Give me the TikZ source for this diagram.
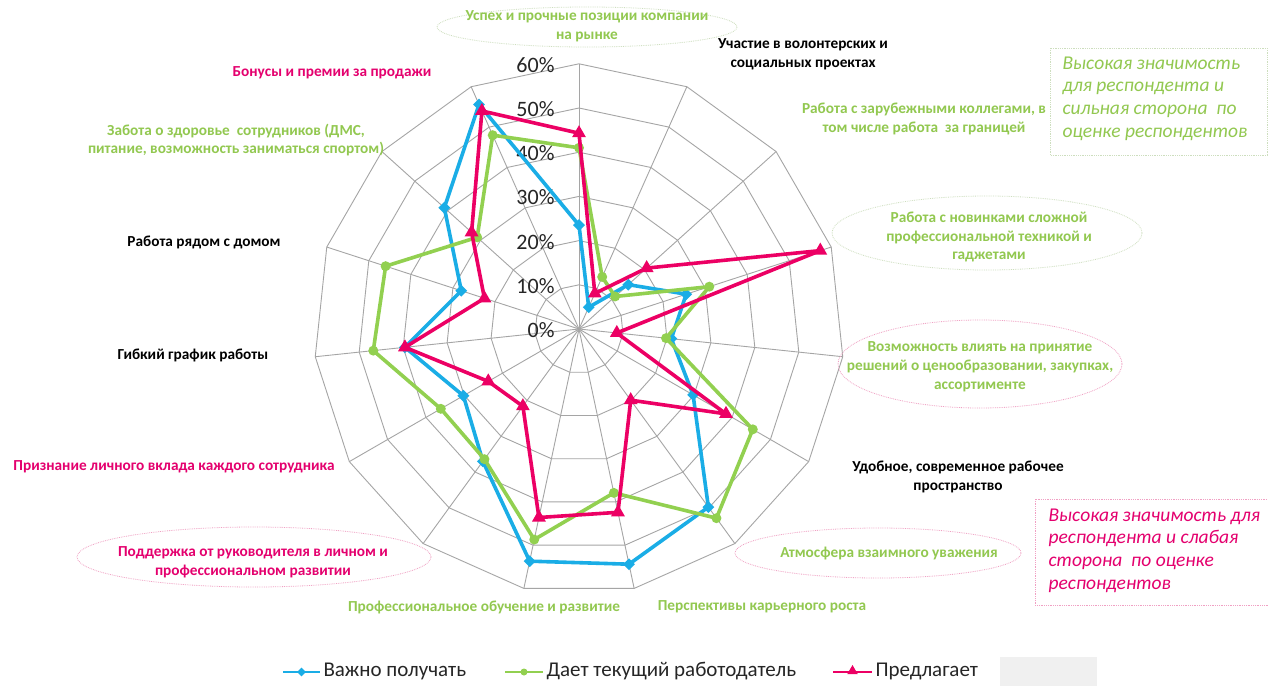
\documentclass[tikz,border=0pt]{standalone}
\usepackage{fontspec}
\setmainfont{Carlito}
\usetikzlibrary{shapes.geometric}
\definecolor{sblue}{RGB}{26,173,230}
\definecolor{sgreen}{RGB}{146,208,80}
\definecolor{sred}{RGB}{236,0,100}
\definecolor{tgreen}{RGB}{146,200,80}
\definecolor{tpink}{RGB}{228,0,110}
\definecolor{gridc}{RGB}{165,165,165}
\definecolor{egreen}{RGB}{205,222,190}
\definecolor{epink}{RGB}{240,160,195}
\definecolor{legbg}{RGB}{240,240,240}
\tikzset{
  gridline/.style={draw=gridc, line width=0.9pt},
  bl/.style={draw=sblue, line width=3.6pt, line join=round},
  gl/.style={draw=sgreen, line width=3.6pt, line join=round},
  rl/.style={draw=sred, line width=3.6pt, line join=round},
  bmark/.style={shape=diamond, fill=sblue, inner sep=0pt, minimum size=12pt},
  gmark/.style={shape=circle, fill=sgreen, inner sep=0pt, minimum size=10pt},
  rmark/.style={shape=regular polygon, regular polygon sides=3, fill=sred, inner sep=0pt, minimum size=16pt},
  pct/.style={anchor=east, font=\fontsize{22}{24}\selectfont, text=black!85},
  lab/.style={align=center, font=\fontsize{15.3}{18.8}\selectfont\bfseries},
  labg/.style={lab, text=tgreen},
  labp/.style={lab, text=tpink},
  labk/.style={lab, text=black},
  elg/.style={draw=egreen, densely dotted, line width=0.8pt},
  elp/.style={draw=epink, densely dotted, line width=0.8pt},
  boxtext/.style={align=left, anchor=north west, font=\fontsize{19.5}{22.8}\selectfont\itshape},
  legtext/.style={anchor=west, font=\fontsize{21}{22}\selectfont, text=black!85}
}
\begin{document}
\begin{tikzpicture}[x=1pt,y=-1pt]
\useasboundingbox (0,0) rectangle (1268,686);
\fill[white] (0,0) rectangle (1268,686);

% ---------- radar grid ----------
\begin{scope}[shift={(579,329)}]
  \coordinate (C) at (0,0);
  \foreach \j in {1,...,6} {
    \draw[gridline] (-90:{44.2*\j}) \foreach \k in {1,...,14} { -- ({24*\k-90}:{44.2*\j}) } -- cycle;
  }
  \foreach \k in {0,...,14} {
    \coordinate (ax\k) at ({24*\k-90}:265.2);
    \draw[gridline] (C) -- (ax\k);
  }
  % data points
  \foreach \v [count=\k from 0] in {23.5,5.4,15,25.5,21,29.8,49.8,54.4,53.7,37,30.2,39.6,28,41,55.6}
    { \coordinate (b\k) at ({24*\k-90}:{\v*4.42}); }
  \foreach \v [count=\k from 0] in {41,12.9,11,31,19.8,45.4,52.9,37.9,48.7,36.4,36.1,46.8,46,31,48}
    { \coordinate (g\k) at ({24*\k-90}:{\v*4.42}); }
  \foreach \v [count=\k from 0] in {44.3,8.8,20.6,57.4,8.6,38.4,19.9,42.4,43.6,21.6,23.7,39.6,22.5,32.7,54}
    { \coordinate (r\k) at ({24*\k-90}:{\v*4.42}); }
\end{scope}

% percentage labels
\foreach \t [count=\p from 0] in {0\%,10\%,20\%,30\%,40\%,50\%,60\%} {
  \node[pct] (p\p) at (558,{329-44.2*\p+1}) {\t};
}

% ---------- series ----------
\draw[bl] (b0) \foreach \k in {1,...,14} { -- (b\k) } -- cycle;
\foreach \k in {0,...,14} \node[bmark] (bm\k) at (b\k) {};
\draw[gl] (g0) \foreach \k in {1,...,14} { -- (g\k) } -- cycle;
\foreach \k in {0,...,14} \node[gmark] (gm\k) at (g\k) {};
\draw[rl] (r0) \foreach \k in {1,...,14} { -- (r\k) } -- cycle;
\foreach \k in {0,...,14} \node[rmark] (rm\k) at (r\k) {};

% ---------- ellipses ----------
\draw[elg] (587,27) ellipse [x radius=150, y radius=20];
\draw[elg] (987,233) ellipse [x radius=155, y radius=37];
\draw[elp] (980,364) ellipse [x radius=142, y radius=44];
\draw[elp] (878,553) ellipse [x radius=143, y radius=25];
\draw[elp] (254,557) ellipse [x radius=177, y radius=30];

% ---------- axis labels ----------
\node[labg] (l0) at (587,26) {Успех и прочные позиции компании\\на рынке};
\node[labk] (l1) at (803,54) {Участие в волонтерских и\\социальных проектах};
\node[labg] (l2) at (924,119) {Работа с зарубежными коллегами, в\\том числе работа\ \ за границей};
\node[labg] (l3) at (989,237) {Работа с новинками сложной\\профессиональной техникой и\\гаджетами};
\node[labg] (l4) at (980,367) {Возможность влиять на принятие\\решений о ценообразовании, закупках,\\ассортименте};
\node[labk] (l5) at (958,477) {Удобное, современное рабочее\\пространство};
\node[labg] (l6) at (889,553) {Атмосфера взаимного уважения};
\node[labg] (l7) at (762,607) {Перспективы карьерного роста};
\node[labg] (l8) at (484,607) {Профессиональное обучение и развитие};
\node[labp] (l9) at (253,562) {Поддержка от руководителя в личном и\\профессиональном развитии};
\node[labp] (l10) at (174,467) {Признание личного вклада каждого сотрудника};
\node[labk] (l11) at (193,355) {Гибкий график работы};
\node[labk] (l12) at (204,242) {Работа рядом с домом};
\node[labg] (l13) at (236,140) {Забота о здоровье\ \ сотрудников (ДМС,\\питание, возможность заниматься спортом)};
\node[labp] (l14) at (332,73) {Бонусы и премии за продажи};

% ---------- side boxes ----------
\draw[draw=egreen, densely dotted, line width=0.8pt] (1050,48) rectangle (1267,155);
\node[boxtext, text=tgreen] (gbox) at (1059,53) {Высокая значимость\\для респондента и\\сильная сторона\ \ по\\оценке респондентов};
\draw[draw=epink, densely dotted, line width=0.8pt] (1035,499) rectangle (1270,605);
\node[boxtext, text=tpink] (pbox) at (1045,505) {Высокая значимость для\\респондента и слабая\\сторона\ \ по оценке\\респондентов};

% ---------- legend ----------
\coordinate (lb1) at (283,672); \coordinate (lb2) at (320,672);
\draw[draw=sblue, line width=2.5pt] (lb1) -- (lb2);
\node[bmark, minimum size=9pt] (lbm) at (301.5,672) {};
\node[legtext] (lbt) at (320,671) {Важно получать};
\coordinate (lg1) at (505,672); \coordinate (lg2) at (543,672);
\draw[draw=sgreen, line width=2.5pt] (lg1) -- (lg2);
\node[gmark, minimum size=7pt] (lgm) at (524,672) {};
\node[legtext] (lgt) at (543,671) {Дает текущий работодатель};
\coordinate (lr1) at (833,672); \coordinate (lr2) at (872,672);
\draw[draw=sred, line width=2.5pt] (lr1) -- (lr2);
\node[rmark, minimum size=12pt] (lrm) at (852.5,671) {};
\node[legtext] (lrt) at (872,671) {Предлагает};
\fill[legbg] (1000,657) rectangle (1097,686);
\end{tikzpicture}
\end{document}
